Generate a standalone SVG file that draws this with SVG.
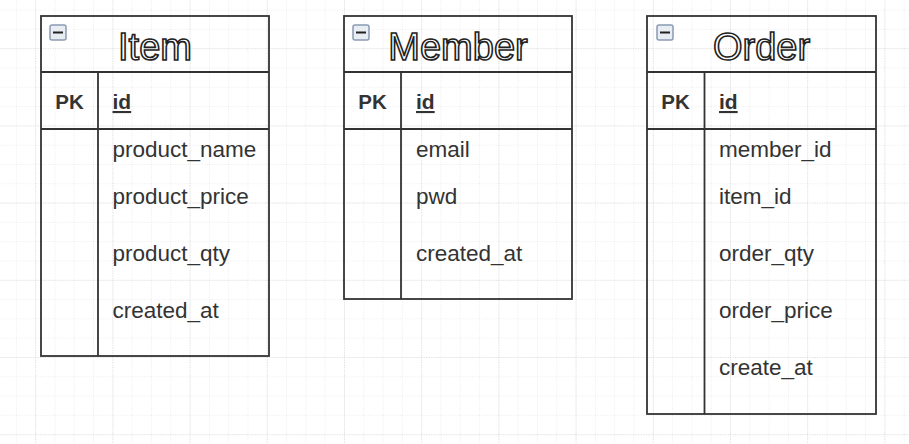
<svg xmlns="http://www.w3.org/2000/svg" width="909" height="444" viewBox="0 0 909 444">
<style>
.frame{fill:none;stroke:#333;stroke-width:1.8}
.ln{stroke:#333;stroke-width:1.8}
.title{font-family:"Liberation Sans",Arial,sans-serif;font-size:38px;fill:#fff;stroke:#222;stroke-width:1.6;text-anchor:middle}
.pk{font-family:"Liberation Sans",Arial,sans-serif;font-size:20.5px;font-weight:bold;fill:#333;text-anchor:middle}
.id{font-family:"Liberation Sans",Arial,sans-serif;font-size:21px;font-weight:bold;fill:#333;text-decoration:underline}
.f{font-family:"Liberation Sans",Arial,sans-serif;font-size:22.5px;fill:#333}
.ic{fill:#e8edf3;stroke:#8a9bb3;stroke-width:1.5}
.icm{stroke:#222;stroke-width:2}
</style>
<defs>
<pattern id="minor" patternUnits="userSpaceOnUse" x="15.9" y="9.6" width="19.3" height="19.3">
<path d="M0 0H19.3M0 0V19.3" fill="none" stroke="#dadada" stroke-width="1" stroke-dasharray="1 1.5"/>
</pattern>
<pattern id="major" patternUnits="userSpaceOnUse" x="35.2" y="48.2" width="77.2" height="77.2">
<path d="M0 0H77.2M0 0V77.2" fill="none" stroke="#c4c4c4" stroke-width="1" stroke-dasharray="1 1.5"/>
</pattern>
</defs>
<rect width="909" height="444" fill="#fff"/>
<rect width="909" height="444" fill="url(#minor)"/>
<rect width="909" height="444" fill="url(#major)"/>

<g id="item">
<rect class="frame" x="41" y="16" width="228" height="340"/>
<line class="ln" x1="41" y1="72" x2="269" y2="72"/>
<line class="ln" x1="41" y1="129" x2="269" y2="129"/>
<line class="ln" x1="98" y1="72" x2="98" y2="356"/>
<rect class="ic" x="50" y="25" width="16" height="15" rx="2"/>
<line class="icm" x1="53" y1="32.5" x2="63" y2="32.5"/>
<text class="title" x="155" y="60">Item</text>
<text class="pk" x="69.5" y="109">PK</text>
<text class="id" x="112.5" y="109">id</text>
<text class="f" x="112.5" y="157">product_name</text>
<text class="f" x="112.5" y="204">product_price</text>
<text class="f" x="112.5" y="261">product_qty</text>
<text class="f" x="112.5" y="318">created_at</text>
</g>

<g id="member">
<rect class="frame" x="344" y="16" width="228" height="283"/>
<line class="ln" x1="344" y1="72" x2="572" y2="72"/>
<line class="ln" x1="344" y1="129" x2="572" y2="129"/>
<line class="ln" x1="401" y1="72" x2="401" y2="299"/>
<rect class="ic" x="353" y="25" width="16" height="15" rx="2"/>
<line class="icm" x1="356" y1="32.5" x2="366" y2="32.5"/>
<text class="title" x="458" y="60">Member</text>
<text class="pk" x="372.5" y="109">PK</text>
<text class="id" x="416" y="109">id</text>
<text class="f" x="416" y="157">email</text>
<text class="f" x="416" y="204">pwd</text>
<text class="f" x="416" y="261">created_at</text>
</g>

<g id="order">
<rect class="frame" x="647" y="16" width="229" height="398"/>
<line class="ln" x1="647" y1="72" x2="876" y2="72"/>
<line class="ln" x1="647" y1="129" x2="876" y2="129"/>
<line class="ln" x1="704.5" y1="72" x2="704.5" y2="414"/>
<rect class="ic" x="657" y="25" width="16" height="15" rx="2"/>
<line class="icm" x1="660" y1="32.5" x2="670" y2="32.5"/>
<text class="title" x="761.5" y="60">Order</text>
<text class="pk" x="675.5" y="109">PK</text>
<text class="id" x="719" y="109">id</text>
<text class="f" x="719" y="157">member_id</text>
<text class="f" x="719" y="204">item_id</text>
<text class="f" x="719" y="261">order_qty</text>
<text class="f" x="719" y="318">order_price</text>
<text class="f" x="719" y="375">create_at</text>
</g>

<g id="connectors"></g>
</svg>
